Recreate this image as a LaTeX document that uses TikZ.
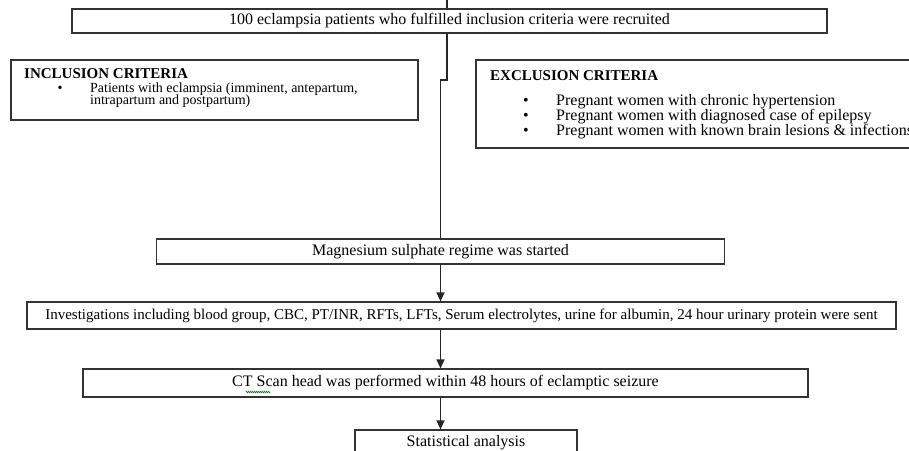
\documentclass[tikz,border=0pt]{standalone}
\usepackage{fontspec}
\setmainfont{Liberation Serif}
\usetikzlibrary{arrows.meta,calc,decorations.pathmorphing}
\begin{document}
\begin{tikzpicture}[x=1pt,y=-1pt]
\tikzset{
 flowbox/.style={draw=black!80, line width=1.2pt, inner sep=0pt, font=\fontsize{16}{15}\selectfont},
 conn/.style={draw=black!85, line width=1.2pt},
 arr/.style={conn, -{Triangle[length=9pt,width=8pt]}},
 txt/.style={inner sep=0pt, anchor=base west, font=\fontsize{16}{15}\selectfont},
 inctxt/.style={txt, font=\fontsize{14}{13}\selectfont},
 headtxt/.style={txt, font=\fontsize{15}{15}\selectfont\bfseries},
 bul/.style={inner sep=0pt, anchor=base},
 squiggle/.style={draw=green!55!black, line width=0.6pt, decorate, decoration={zigzag, segment length=2pt, amplitude=0.8pt}}
}
\useasboundingbox (0,0) rectangle (909,450);
\clip (0,0) rectangle (909,450);

% top box
\node[flowbox, minimum width=755pt, minimum height=24pt] (top) at (449.5,21)
  {100 eclampsia patients who fulfilled inclusion criteria were recruited};

% inclusion box
\node[flowbox, minimum width=407pt, minimum height=60pt] (inc) at (214.5,90) {};
\node[headtxt] (inch) at (24,78) {INCLUSION CRITERIA};
\node[bul, font=\fontsize{14}{13}\selectfont] (incb) at (60,92) {\textbullet};
\node[inctxt] (inc1) at (90,92) {Patients with eclampsia (imminent, antepartum,};
\node[inctxt] (inc2) at (90,104.5) {intrapartum and postpartum)};

% exclusion box
\node[flowbox, minimum width=444pt, minimum height=88pt] (exc) at (698,104) {};
\node[headtxt] (exch) at (490,80) {EXCLUSION CRITERIA};
\node[bul, font=\fontsize{16}{15}\selectfont] (excb1) at (526,105.5) {\textbullet};
\node[bul, font=\fontsize{16}{15}\selectfont] (excb2) at (526,120.5) {\textbullet};
\node[bul, font=\fontsize{16}{15}\selectfont] (excb3) at (526,135) {\textbullet};
\node[txt] (exc1) at (556,105.5) {Pregnant women with chronic hypertension};
\node[txt] (exc2) at (556,120.5) {Pregnant women with diagnosed case of epilepsy};
\node[txt] (exc3) at (556,135) {Pregnant women with known brain lesions \& infections};

% flow boxes
\node[flowbox, minimum width=568pt, minimum height=25pt] (mag) at (440.5,251.5)
  {Magnesium sulphate regime was started};
\node[flowbox, minimum width=869pt, minimum height=27pt, font=\fontsize{15}{15}\selectfont] (inv) at (461.5,315.5)
  {Investigations including blood group, CBC, PT/INR, RFTs, LFTs, Serum electrolytes, urine for albumin, 24 hour urinary protein were sent};
\node[flowbox, minimum width=725pt, minimum height=28pt] (ct) at (445.5,383)
  {CT Scan head was performed within 48 hours of eclamptic seizure};
\node[flowbox, minimum width=222pt, minimum height=26pt] (stat) at (466,443)
  {Statistical analysis};

% spell-check squiggle under "Scan"
\draw[squiggle] (246,392) -- (270,392);

% connectors
\coordinate (topin) at (447,0);
\coordinate (jog) at (447,80);
\draw[conn] (topin) -- (topin |- top.north);
\draw[conn] (top.south -| jog) -- (jog) -| (mag.north);
\draw[arr] (mag.south) -- (mag.south |- inv.north);
\draw[arr] (inv.south -| mag.south) -- (mag.south |- ct.north);
\draw[arr] (ct.south -| mag.south) -- (mag.south |- stat.north);
\end{tikzpicture}
\end{document}
